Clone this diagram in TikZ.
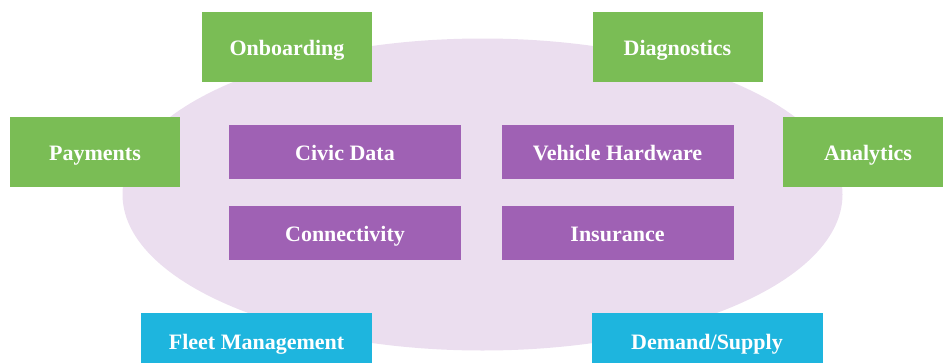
\documentclass[tikz,border=0pt]{standalone}
\usepackage{fontspec}
\setmainfont{Liberation Serif}
\definecolor{gbox}{HTML}{7ABD55}
\definecolor{pbox}{HTML}{9F61B4}
\definecolor{bbox}{HTML}{1EB5DE}
\definecolor{ell}{HTML}{EBDEEF}
\begin{document}
\begin{tikzpicture}[x=1pt,y=-1pt,
  lbl/.style={font=\fontsize{22}{24}\selectfont\bfseries, text=white, inner sep=0pt, text height=17pt, text depth=0pt, anchor=center},
  outer/.style={lbl, fill=gbox, minimum width=170pt, minimum height=70pt},
  inner/.style={lbl, fill=pbox, minimum width=232pt, minimum height=54pt},
  lower/.style={lbl, fill=bbox, minimum width=231pt, minimum height=56pt}]
\useasboundingbox (0,0) rectangle (943,362);
\clip (0,0) rectangle (943,362);
\fill[ell] (482.5,194.5) ellipse [x radius=360, y radius=156];
\node[outer] (onb) at (287,47) {Onboarding};
\node[outer] (diag) at (677.5,47) {Diagnostics};
\node[outer] (pay) at (95,152) {Payments};
\node[outer] (ana) at (868,152) {Analytics};
\node[inner] (civic) at (345,152) {Civic Data};
\node[inner] (conn) at (345,233) {Connectivity};
\node[inner] (veh) at (617.5,152) {Vehicle Hardware};
\node[inner] (ins) at (617.5,233) {Insurance};
\node[lower] (fleet) at (256.5,341) {Fleet Management};
\node[lower] (dem) at (707,341) {Demand/Supply};
\end{tikzpicture}
\end{document}
